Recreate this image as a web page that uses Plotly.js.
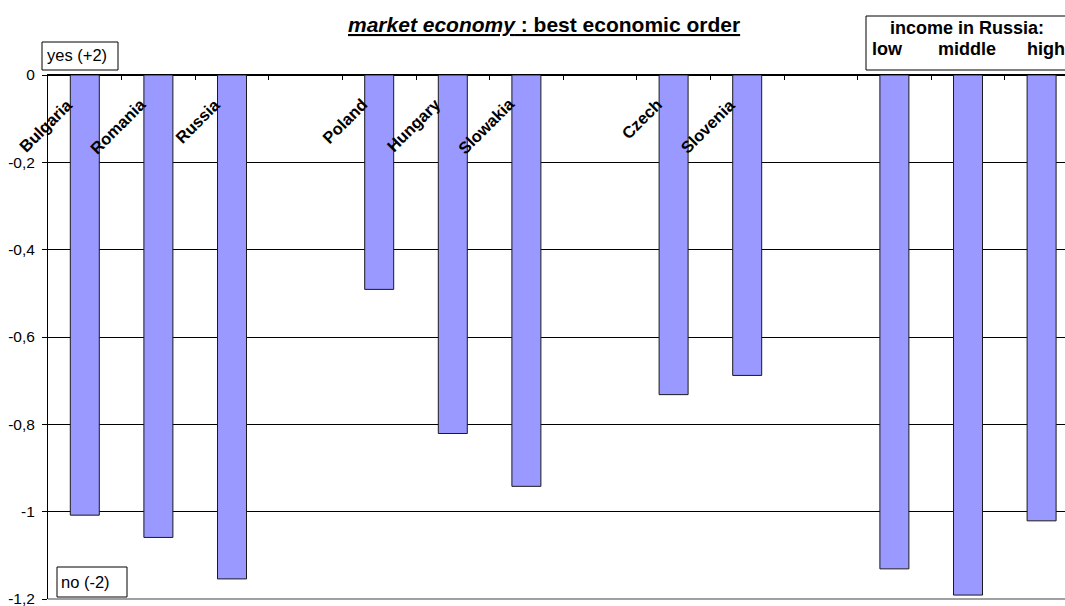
<!DOCTYPE html>
<html><head><meta charset="utf-8">
<script src="https://cdn.plot.ly/plotly-3.0.1.min.js"></script>
<style>html,body{margin:0;padding:0;background:#fff}#chart{width:1065px;height:606px}</style>
</head><body><div id="chart"></div>
<script>
// data
var categories = ["Bulgaria","Romania","Russia","gap1","Poland","Hungary","Slowakia","gap2","Czech","Slovenia","gap3","low","middle","high"];
var labels = ["Bulgaria","Romania","Russia","","Poland","Hungary","Slowakia","","Czech","Slovenia","","","",""];
var values = [-1.008,-1.059,-1.154,null,-0.491,-0.821,-0.942,null,-0.732,-0.688,null,-1.131,-1.191,-1.021];
var yTickVals = [0,-0.2,-0.4,-0.6,-0.8,-1,-1.2];
var yTickText = ["0","-0,2","-0,4","-0,6","-0,8","-1","-1,2"];
var incomeTitle = "income in Russia:";
var incomeLevels = ["low","middle","high"];

var W=1065,H=606,L=48,R=0,T=75,B=7;
var pw=W-L-R, ph=H-T-B;
function px(x){return (x-L)/pw;}
function py(y){return 1-(y-T)/ph;}
var FONT="Arial, 'Liberation Sans', sans-serif";

var trace = {type:'bar', x:categories, y:values, width:0.394,
  marker:{color:'#9999FF', line:{color:'#1a1a1a', width:1}}, hoverinfo:'skip'};

var annotations = [];
labels.forEach(function(t,i){
  if(!t) return;
  annotations.push({x:categories[i], y:0, xref:'x', yref:'y', text:'<b>'+t+'</b>', showarrow:false,
    textangle:-45, xanchor:'right', yanchor:'top', xshift:-6, yshift:-17,
    font:{family:FONT,size:16.5,color:'#000'}});
});
annotations.push({x:px(45),y:py(55),xref:'paper',yref:'paper',text:'yes (+2)',showarrow:false,xanchor:'left',yanchor:'middle',font:{family:FONT,size:16.5,color:'#000'}});
annotations.push({x:px(59),y:py(582),xref:'paper',yref:'paper',text:'no (-2)',showarrow:false,xanchor:'left',yanchor:'middle',font:{family:FONT,size:16.5,color:'#000'}});
annotations.push({x:px(967),y:py(28),xref:'paper',yref:'paper',text:'<b>'+incomeTitle+'</b>',showarrow:false,xanchor:'center',yanchor:'middle',font:{family:FONT,size:18,color:'#000'}});
annotations.push({x:px(870),y:py(49),xref:'paper',yref:'paper',text:'<b>'+incomeLevels[0]+'</b>',showarrow:false,xanchor:'left',yanchor:'middle',font:{family:FONT,size:18,color:'#000'}});
annotations.push({x:px(967),y:py(49),xref:'paper',yref:'paper',text:'<b>'+incomeLevels[1]+'</b>',showarrow:false,xanchor:'center',yanchor:'middle',font:{family:FONT,size:18,color:'#000'}});
annotations.push({x:px(1025),y:py(49),xref:'paper',yref:'paper',text:'<b>'+incomeLevels[2]+'</b>',showarrow:false,xanchor:'left',yanchor:'middle',font:{family:FONT,size:18,color:'#000'}});
annotations.push({x:px(544),y:py(24),xref:'paper',yref:'paper',text:'<b><i>market economy</i> : best economic order</b>',showarrow:false,xanchor:'center',yanchor:'middle',
  font:{family:FONT,size:21,color:'#000',lineposition:'under'}});

var shapes = [
  {type:'rect',xref:'paper',yref:'paper',x0:px(42),x1:px(118),y0:py(70),y1:py(42),line:{color:'#000',width:1},fillcolor:'#fff',layer:'above'},
  {type:'rect',xref:'paper',yref:'paper',x0:px(57),x1:px(127),y0:py(597),y1:py(567),line:{color:'#000',width:1},fillcolor:'#fff',layer:'above'},
  {type:'rect',xref:'paper',yref:'paper',x0:px(866),x1:px(1075),y0:py(70),y1:py(16),line:{color:'#000',width:1},fillcolor:'#fff',layer:'above'},
  {type:'line',xref:'paper',yref:'paper',x0:0,x1:1,y0:0,y1:0,line:{color:'#808080',width:1.5}}
];

var layout = {
  width:W, height:H, margin:{l:L,r:R,t:T,b:B,pad:0},
  paper_bgcolor:'#fff', plot_bgcolor:'#fff', showlegend:false,
  font:{family:FONT,size:15,color:'#000'},
  xaxis:{type:'category', categoryorder:'array', categoryarray:categories,
    range:[-0.5, -0.5 + pw/73.6], side:'top', showline:true, linecolor:'#000', linewidth:1,
    ticks:'inside', ticklen:5, tickcolor:'#000', tickson:'boundaries', showticklabels:false,
    showgrid:false, zeroline:false, fixedrange:true},
  yaxis:{range:[-1.2,0], tickvals:yTickVals, ticktext:yTickText, showline:true, linecolor:'#000', linewidth:1,
    ticks:'outside', ticklen:5, tickcolor:'#000', showgrid:true, gridcolor:'#000', gridwidth:1,
    zeroline:true, zerolinecolor:'#000', zerolinewidth:1, tickfont:{family:FONT,size:15.5,color:'#000'},
    ticklabelstandoff:4, ticklabeloverflow:'allow', fixedrange:true},
  bargap:0.6, annotations:annotations, shapes:shapes
};
Plotly.newPlot('chart',[trace],layout,{displayModeBar:false,staticPlot:true});
</script></body></html>
